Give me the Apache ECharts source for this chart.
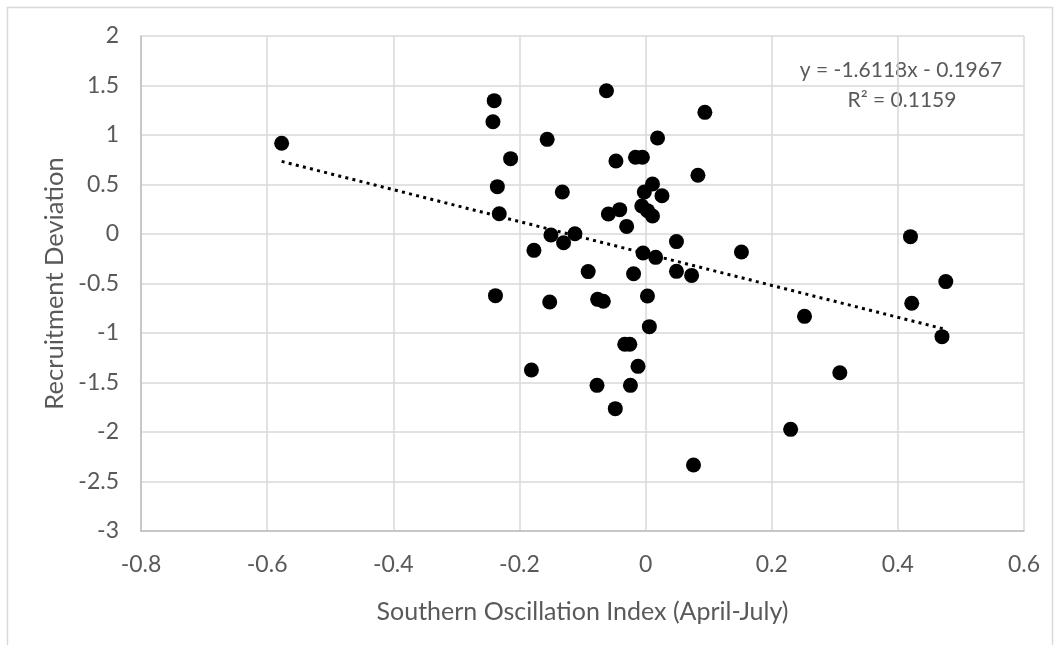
<!DOCTYPE html>
<html>
<head>
<meta charset="utf-8">
<script src="https://cdn.jsdelivr.net/npm/echarts@6/dist/echarts.min.js"></script>
<style>
html,body{margin:0;padding:0;background:#fff;}
#chart{width:1060px;height:645px;}
</style>
</head>
<body>
<div id="chart"></div>
<script>
// Southern Oscillation Index (April-July)
const soi = [
  -0.577, -0.240, -0.242, -0.062, 0.094, -0.156, 0.019, -0.214, -0.047, -0.016,
  -0.005, 0.083, -0.235, 0.011, -0.132, -0.002, 0.026, -0.232, -0.059, -0.041,
  -0.006, 0.003, 0.011, -0.030, -0.150, -0.112, -0.130, -0.177, 0.049, 0.152,
  -0.004, 0.016, -0.091, -0.019, 0.049, 0.073, -0.238, -0.152, -0.076, -0.067,
  0.003, 0.006, -0.033, -0.025, -0.012, -0.181, -0.077, -0.024, -0.048, 0.420,
  0.476, 0.422, 0.470, 0.252, 0.308, 0.230, 0.076
];
// Recruitment Deviation
const recruitment = [
  0.916, 1.347, 1.134, 1.447, 1.229, 0.956, 0.970, 0.761, 0.737, 0.775,
  0.775, 0.593, 0.478, 0.505, 0.424, 0.424, 0.387, 0.205, 0.202, 0.246,
  0.283, 0.236, 0.182, 0.077, -0.010, 0.003, -0.088, -0.165, -0.077, -0.182,
  -0.192, -0.236, -0.380, -0.401, -0.377, -0.418, -0.623, -0.687, -0.660, -0.680,
  -0.626, -0.936, -1.114, -1.114, -1.337, -1.374, -1.529, -1.529, -1.764, -0.027,
  -0.481, -0.700, -1.037, -0.832, -1.401, -1.973, -2.333
];
// Linear trendline (as printed on the chart)
const trendSlope = -1.6118;
const trendIntercept = -0.1967;
const trendLabel = ["y = -1.6118x - 0.1967", "R\u00b2 = 0.1159"];
const xTicks = [-0.8, -0.6, -0.4, -0.2, 0, 0.2, 0.4, 0.6];
const yTicks = [-3, -2.5, -2, -1.5, -1, -0.5, 0, 0.5, 1, 1.5, 2];

const points = soi.map((x, i) => [x, recruitment[i]]);
const xMin = Math.min(...soi), xMax = Math.max(...soi);
const trend = [xMin, xMax].map(x => [x, trendSlope * x + trendIntercept]);

const FONT = 'Lato';
const GREY = '#595959';
const chart = echarts.init(document.getElementById('chart'));
chart.setOption({
  animation: false,
  backgroundColor: '#fff',
  grid: {left: 141, right: 36, top: 36, bottom: 114},
  xAxis: {
    type: 'value',
    min: xTicks[0], max: xTicks[xTicks.length - 1], interval: 0.2,
    name: 'Southern Oscillation Index (April-July)',
    nameLocation: 'middle', nameGap: 68,
    nameTextStyle: {color: GREY, fontSize: 25, fontFamily: FONT},
    axisLine: {show: true, onZero: false, lineStyle: {color: '#bfbfbf', width: 1.5}},
    axisTick: {show: false},
    axisLabel: {color: GREY, fontSize: 23, fontFamily: FONT, margin: 22,
      formatter: v => String(Math.round(v * 10) / 10)},
    splitLine: {show: true, lineStyle: {color: '#d9d9d9', width: 1.5}}
  },
  yAxis: {
    type: 'value',
    min: yTicks[0], max: yTicks[yTicks.length - 1], interval: 0.5,
    name: 'Recruitment Deviation',
    nameLocation: 'middle', nameGap: 65, nameRotate: 90,
    nameTextStyle: {color: GREY, fontSize: 25.5, fontFamily: FONT},
    axisLine: {show: true, onZero: false, lineStyle: {color: '#bfbfbf', width: 1.5}},
    axisTick: {show: false},
    axisLabel: {color: GREY, fontSize: 23, fontFamily: FONT, margin: 22,
      formatter: v => String(Math.round(v * 10) / 10)},
    splitLine: {show: true, lineStyle: {color: '#d9d9d9', width: 1.5}}
  },
  series: [
    {
      type: 'scatter',
      data: points,
      symbol: 'circle',
      symbolSize: 15,
      itemStyle: {color: '#000', opacity: 1},
      z: 3
    },
    {
      type: 'line',
      data: trend,
      showSymbol: false,
      symbol: 'none',
      lineStyle: {color: '#000', width: 3, type: [3, 4.3]},
      z: 2
    }
  ],
  graphic: [
    {type: 'rect', shape: {x: 7.5, y: 7.5, width: 1045, height: 660},
     style: {fill: 'none', stroke: '#d9d9d9', lineWidth: 1.5}, silent: true},
    {type: 'text', x: 901, y: 70,
     style: {text: trendLabel[0], fill: GREY, fontSize: 21, fontFamily: FONT,
       textAlign: 'center', textVerticalAlign: 'middle'}},
    {type: 'text', x: 902, y: 100,
     style: {text: trendLabel[1], fill: GREY, fontSize: 21, fontFamily: FONT,
       textAlign: 'center', textVerticalAlign: 'middle'}}
  ]
});
</script>
</body>
</html>
